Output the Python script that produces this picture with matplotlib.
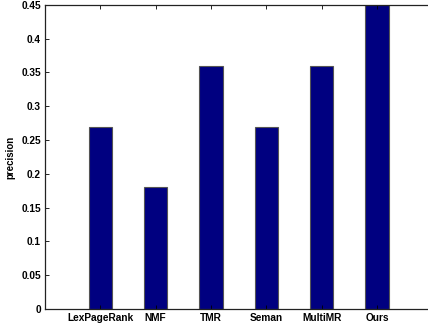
import matplotlib
matplotlib.use("Agg")
import matplotlib.pyplot as plt

methods = ["LexPageRank", "NMF", "TMR", "Seman", "MultiMR", "Ours"]
precision = [0.27, 0.18, 0.36, 0.27, 0.36, 0.45]
yticks = [0, 0.05, 0.1, 0.15, 0.2, 0.25, 0.3, 0.35, 0.4, 0.45]
ytick_labels = ["0", "0.05", "0.1", "0.15", "0.2", "0.25", "0.3", "0.35", "0.4", "0.45"]

plt.rcParams["font.family"] = ["Liberation Sans", "DejaVu Sans"]
plt.rcParams["font.weight"] = "bold"

fig = plt.figure(figsize=(4.28, 3.29), dpi=100)
# right edge of the axes falls just outside the image, as in the reference
ax = fig.add_axes([0.105, 0.061, 0.905, 0.924])

pos = list(range(1, len(methods) + 1))
ax.bar(pos, precision, width=0.42, color="#000080", edgecolor="#555555", linewidth=0.8)

ax.set_xlim(0, 7)
ax.set_ylim(0, 0.45)
ax.set_xticks(pos)
ax.set_xticklabels(methods, fontsize=7.3, fontweight="bold")
ax.set_yticks(yticks)
ax.set_yticklabels(ytick_labels, fontsize=7.3, fontweight="bold")
ax.set_ylabel("precision", fontsize=7, fontweight="bold", labelpad=4)

ax.tick_params(direction="in", top=True, right=True, length=3, width=0.6, pad=3)
for s in ax.spines.values():
    s.set_linewidth(0.9)
    s.set_color("#222222")

fig.savefig("out.png", dpi=100)
